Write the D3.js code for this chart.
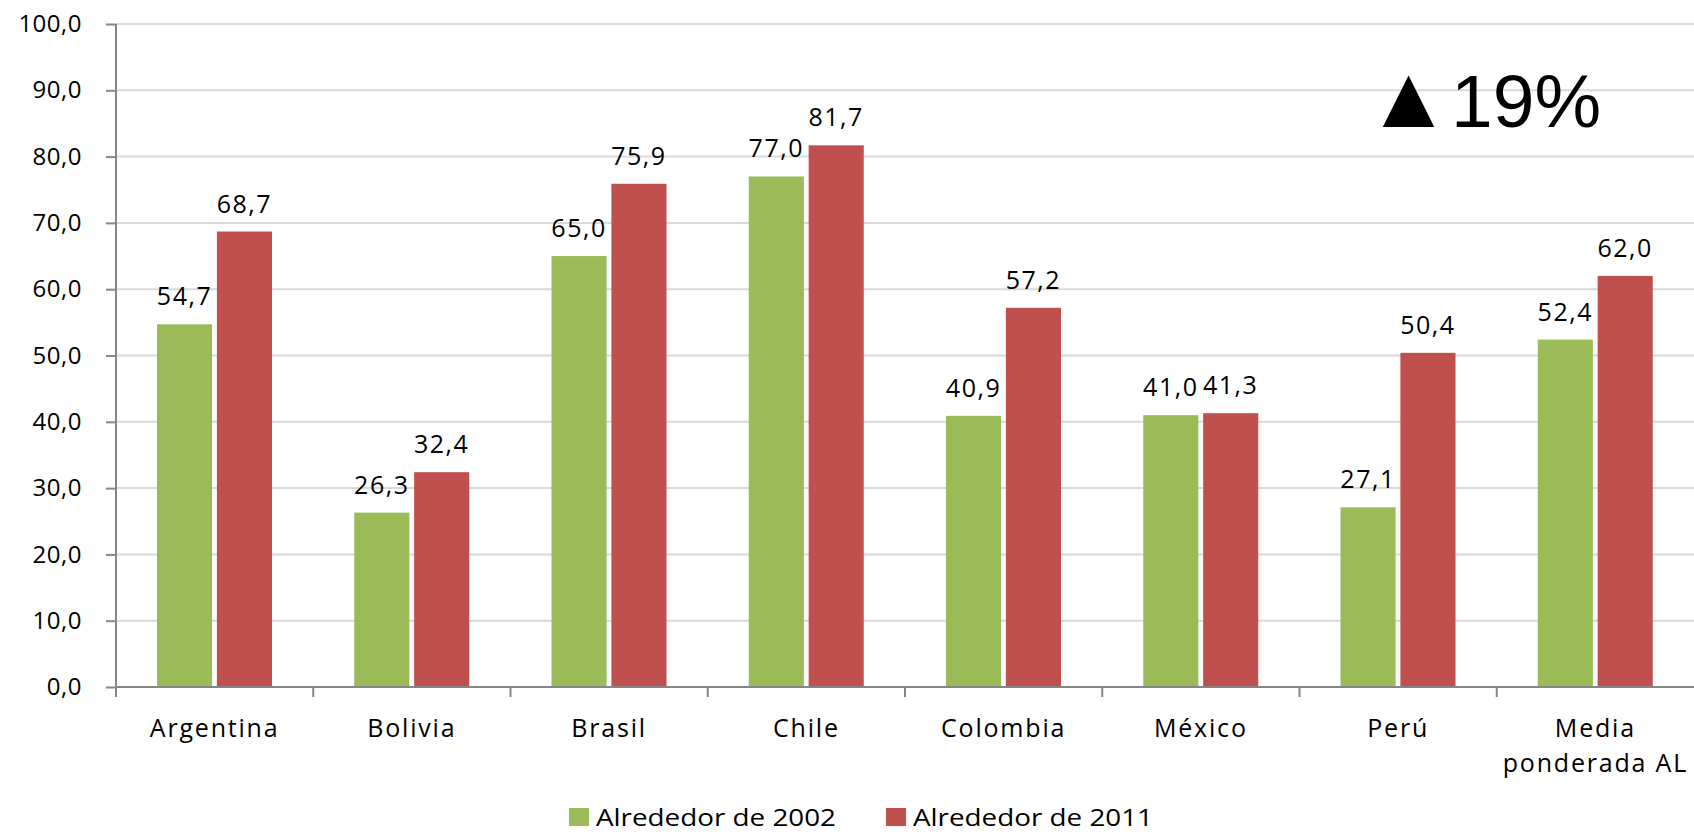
<!DOCTYPE html>
<html>
<head>
<meta charset="utf-8">
<script src="https://cdn.jsdelivr.net/npm/d3@7"></script>
<style>
body { margin: 0; background: #fff; }
text { font-family: "Open Sans", sans-serif; fill: #000; }
</style>
</head>
<body>
<div id="graph"></div>
<script>
var categories = ["Argentina", "Bolivia", "Brasil", "Chile", "Colombia", "México", "Perú", "Media\nponderada AL"];
var seriesNames = ["Alrededor de 2002", "Alrededor de 2011"];
var values2002 = [54.7, 26.3, 65.0, 77.0, 40.9, 41.0, 27.1, 52.4];
var values2011 = [68.7, 32.4, 75.9, 81.7, 57.2, 41.3, 50.4, 62.0];
var yTicks = [0, 10, 20, 30, 40, 50, 60, 70, 80, 90, 100];
var colors = ["#9BBB59", "#C0504D"];
var note = "19%";

var svgWidth = 1694,
    svgHeight = 834,
    svg = d3.select('#graph').append('svg').attr('width', svgWidth).attr('height', svgHeight),
    margin = {top: 24, right: 0, bottom: 147, left: 116},
    width = svgWidth - margin.left - margin.right,
    height = svgHeight - margin.top - margin.bottom;

var g = svg.append('g').attr('transform', 'translate(' + margin.left + ',' + margin.top + ')');

var x = d3.scaleBand().domain(categories).range([0, width]);
var x1 = d3.scaleBand().domain([0, 1]).range([41, 156]).paddingInner(0.08);
var y = d3.scaleLinear().domain([0, 100]).range([height, 0]);

var fmt = function(v) { return d3.format('.1f')(v).replace('.', ','); };

// gridlines
g.append('g').selectAll('line').data(yTicks.slice(1)).enter().append('line')
    .attr('x1', 0).attr('x2', width)
    .attr('y1', function(d) { return y(d); }).attr('y2', function(d) { return y(d); })
    .attr('stroke', '#d9d9d9').attr('stroke-width', 2);

var data = categories.map(function(c, i) { return {cat: c, vals: [values2002[i], values2011[i]]}; });

var groups = g.selectAll('.cat').data(data).enter().append('g')
    .attr('class', 'cat')
    .attr('transform', function(d) { return 'translate(' + x(d.cat) + ',0)'; });

groups.selectAll('rect').data(function(d) { return d.vals; }).enter().append('rect')
    .attr('x', function(d, i) { return x1(i); })
    .attr('width', x1.bandwidth())
    .attr('y', function(d) { return y(d); })
    .attr('height', function(d) { return height - y(d); })
    .attr('fill', function(d, i) { return colors[i]; });

groups.selectAll('.lbl').data(function(d) { return d.vals; }).enter().append('text')
    .attr('class', 'lbl')
    .attr('x', function(d, i) { return x1(i) + x1.bandwidth() / 2; })
    .attr('y', function(d) { return y(d) - 19; })
    .attr('text-anchor', 'middle')
    .style('font-size', '25px')
    .style('letter-spacing', '1.5px')
    .text(fmt);

// y axis
var yAxis = g.append('g').attr('class', 'axis')
    .call(d3.axisLeft(y).tickValues(yTicks).tickFormat(fmt).tickSize(10).tickPadding(24));
yAxis.select('.domain').attr('d', 'M0,0V' + (height + 10));
yAxis.selectAll('text').style('font-size', '24px').style('letter-spacing', '0.5px');

// x axis
var xAxis = g.append('g').attr('class', 'axis').attr('transform', 'translate(0,' + height + ')')
    .call(d3.axisBottom(x).tickSize(0).tickFormat(''));
xAxis.select('.domain').attr('d', 'M0,0H' + width);
xAxis.append('g').selectAll('line').data(categories.slice(1)).enter().append('line')
    .attr('x1', function(d) { return x(d); }).attr('x2', function(d) { return x(d); })
    .attr('y1', 0).attr('y2', 10);

g.selectAll('.axis .domain, .axis line').attr('stroke', '#868686').attr('stroke-width', 2);

var catLabels = g.append('g').selectAll('text').data(categories).enter().append('text')
    .attr('x', function(d) { return x(d) + x.bandwidth() / 2; })
    .attr('y', height + 50)
    .attr('text-anchor', 'middle')
    .style('font-size', '25px')
    .style('letter-spacing', '1.8px');
catLabels.each(function(d) {
    var t = d3.select(this);
    d.split('\n').forEach(function(line, i) {
        t.append('tspan').attr('x', x(d) + x.bandwidth() / 2).attr('dy', i ? 35 : 0).text(line);
    });
});

// annotation
var ann = svg.append('text').attr('x', 1365).attr('y', 127)
    .style('font-family', '"Liberation Sans", Arial, sans-serif');
ann.append('tspan').style('font-size', '88px').text('▲');
ann.append('tspan').style('font-size', '75px').attr('x', 1451).text(note);

// legend
var legendX = [569, 886];
var leg = svg.append('g').selectAll('g').data(seriesNames).enter().append('g')
    .attr('transform', function(d, i) { return 'translate(' + legendX[i] + ',808)'; });
leg.append('rect').attr('width', 20).attr('height', 18).attr('fill', function(d, i) { return colors[i]; });
leg.append('text').attr('x', 27).attr('y', 18)
    .attr('textLength', 240).attr('lengthAdjust', 'spacingAndGlyphs')
    .style('font-size', '24px')
    .text(function(d) { return d; });
</script>
</body>
</html>
